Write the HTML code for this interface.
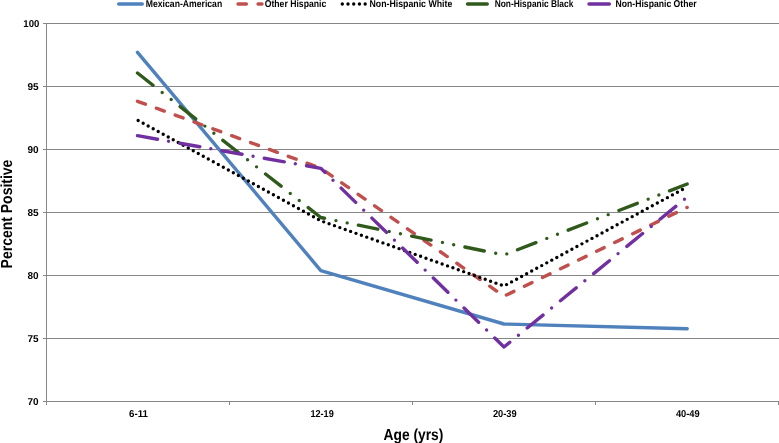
<!DOCTYPE html>
<html>
<head>
<meta charset="utf-8">
<style>
html,body{margin:0;padding:0;background:#fff;}
body{width:779px;height:443px;overflow:hidden;}
svg{display:block;will-change:transform;}
text{font-family:"Liberation Sans",sans-serif;font-weight:bold;fill:#000;text-rendering:geometricPrecision;}
</style>
</head>
<body>
<svg width="779" height="443" viewBox="0 0 779 443">
<rect x="0" y="0" width="779" height="443" fill="#fff"/>
<!-- gridlines -->
<g stroke="#868686" stroke-width="1" shape-rendering="crispEdges">
<line x1="43" y1="23.5" x2="779" y2="23.5"/>
<line x1="43" y1="86.5" x2="779" y2="86.5"/>
<line x1="43" y1="149.5" x2="779" y2="149.5"/>
<line x1="43" y1="212.5" x2="779" y2="212.5"/>
<line x1="43" y1="275.5" x2="779" y2="275.5"/>
<line x1="43" y1="338.5" x2="779" y2="338.5"/>
<line x1="43" y1="401.5" x2="779" y2="401.5"/>
<line x1="46.5" y1="23" x2="46.5" y2="405"/>
<line x1="229.5" y1="401" x2="229.5" y2="405"/>
<line x1="412.5" y1="401" x2="412.5" y2="405"/>
<line x1="595.5" y1="401" x2="595.5" y2="405"/>
<line x1="778.5" y1="401" x2="778.5" y2="405"/>
</g>
<!-- y labels -->
<g font-size="10" text-anchor="end">
<text x="39.3" y="27" textLength="16" lengthAdjust="spacingAndGlyphs">100</text>
<text x="38.5" y="90">95</text>
<text x="38.5" y="153">90</text>
<text x="38.5" y="216">85</text>
<text x="38.5" y="279">80</text>
<text x="38.5" y="342">75</text>
<text x="38.5" y="405">70</text>
</g>
<!-- x labels -->
<g font-size="10" text-anchor="middle">
<text x="138.5" y="417" textLength="19" lengthAdjust="spacingAndGlyphs">6-11</text>
<text x="322.1" y="417" textLength="23.4" lengthAdjust="spacingAndGlyphs">12-19</text>
<text x="504.8" y="417" textLength="23.8" lengthAdjust="spacingAndGlyphs">20-39</text>
<text x="687.8" y="417" textLength="23.8" lengthAdjust="spacingAndGlyphs">40-49</text>
</g>
<!-- axis titles -->
<text x="383.5" y="439.8" font-size="16" textLength="59.8" lengthAdjust="spacingAndGlyphs">Age (yrs)</text>
<text transform="translate(12,268.4) rotate(-90)" font-size="16" textLength="108.8" lengthAdjust="spacingAndGlyphs">Percent Positive</text>

<!-- series -->
<g fill="none" stroke-linejoin="round">
<polyline stroke="#4F81BD" stroke-width="3.4" stroke-linecap="round" points="137.5,52.4 320.8,270.6 504,324 687.2,328.7"/>
<polyline stroke="#C0504D" stroke-width="3.4" stroke-linecap="round" stroke-dasharray="8.4 11.66" points="137.5,101.3 320.8,168.2 504,296.2 687.2,207.4"/>
<polyline stroke="#000" stroke-width="3.4" stroke-linecap="round" stroke-dasharray="0 5.714" stroke-dashoffset="-0.75" points="137.5,120.2 320.8,220.8 504,286 687.2,186.9"/>
<polyline stroke="#2F5A1C" stroke-width="3.4" stroke-linecap="round" stroke-dasharray="19.75 11.67 0 11.47 0 11.47" points="137.5,73 320.8,217.5 504,255 687.2,184"/>
<polyline stroke="#7030A0" stroke-width="3.4" stroke-linecap="round" stroke-dasharray="20.36 11.18 0 11.38" points="137.5,135.7 320.8,168.3 504,347 687.2,197"/>
</g>

<!-- legend -->
<g fill="none" stroke-width="3.4" stroke-linecap="round">
<line x1="118.7" y1="4" x2="142.3" y2="4" stroke="#4F81BD"/>
<line x1="238" y1="4" x2="262" y2="4" stroke="#C0504D" stroke-dasharray="8.4 11.66"/>
<line x1="342.3" y1="4" x2="365.5" y2="4" stroke="#000" stroke-dasharray="0 5.714"/>
<line x1="467.5" y1="4" x2="492" y2="4" stroke="#2F5A1C" stroke-dasharray="19.75 11.67 0 11.47 0 11.47"/>
<line x1="589" y1="4" x2="613" y2="4" stroke="#7030A0" stroke-dasharray="20.36 11.18 0 11.38"/>
</g>
<g font-size="10">
<text x="145.8" y="7" textLength="76.4" lengthAdjust="spacingAndGlyphs">Mexican-American</text>
<text x="264.7" y="7" textLength="61.6" lengthAdjust="spacingAndGlyphs">Other Hispanic</text>
<text x="369.5" y="7" textLength="82.8" lengthAdjust="spacingAndGlyphs">Non-Hispanic White</text>
<text x="494.7" y="7" textLength="78.6" lengthAdjust="spacingAndGlyphs">Non-Hispanic Black</text>
<text x="615.6" y="7" textLength="81" lengthAdjust="spacingAndGlyphs">Non-Hispanic Other</text>
</g>
</svg>
</body>
</html>
